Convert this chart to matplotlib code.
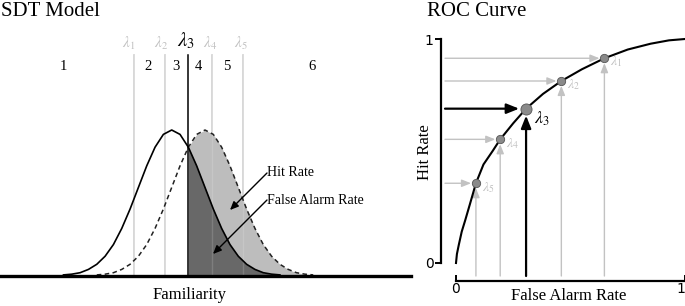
import matplotlib
matplotlib.use("Agg")
import matplotlib.pyplot as plt

# ---------------- data ----------------
# SDT model: familiarity axis (noise-sd units), densities
noise_x = [-3.25, -3.0, -2.75, -2.5, -2.25, -2.0, -1.75, -1.5, -1.25, -1.0, -0.75, -0.5, -0.25, 0.0,
           0.25, 0.5, 0.75, 1.0, 1.25, 1.5, 1.75, 2.0, 2.25, 2.5, 2.75, 3.0, 3.25]
noise_y = [0.003, 0.005, 0.009, 0.018, 0.032, 0.054, 0.086, 0.130, 0.183, 0.242, 0.301, 0.352, 0.387, 0.399,
           0.387, 0.352, 0.301, 0.242, 0.183, 0.130, 0.086, 0.054, 0.032, 0.018, 0.009, 0.005, 0.003]
signal_x = [-2.25, -2.0, -1.75, -1.5, -1.25, -1.0, -0.75, -0.5, -0.25, 0.0, 0.25, 0.5, 0.75, 1.0,
            1.25, 1.5, 1.75, 2.0, 2.25, 2.5, 2.75, 3.0, 3.25, 3.5, 3.75, 4.0, 4.25]
signal_y = [0.003, 0.005, 0.009, 0.018, 0.032, 0.054, 0.086, 0.130, 0.183, 0.242, 0.301, 0.352, 0.387, 0.399,
            0.387, 0.352, 0.301, 0.242, 0.183, 0.130, 0.086, 0.054, 0.032, 0.018, 0.009, 0.005, 0.003]
criteria = [-1.13, -0.20, 0.50, 1.21, 2.14]          # lambda1..lambda5
criterion_labels = [r'$\lambda_1$', r'$\lambda_2$', r'$\lambda_3$', r'$\lambda_4$', r'$\lambda_5$']
region_labels = ['1', '2', '3', '4', '5', '6']
active = 2  # lambda3

# ROC curve
roc_curve_fa = [0.0, 0.004, 0.012, 0.025, 0.04, 0.06, 0.087, 0.12, 0.16, 0.193, 0.25, 0.306, 0.38,
                0.46, 0.55, 0.648, 0.75, 0.85, 0.93, 1.0]
roc_curve_hit = [0.0, 0.04, 0.08, 0.14, 0.19, 0.26, 0.356, 0.44, 0.50, 0.552, 0.624, 0.689, 0.755,
                 0.8125, 0.865, 0.914, 0.953, 0.979, 0.994, 1.0]
roc_fa = [0.648, 0.46, 0.306, 0.193, 0.087]
roc_hit = [0.914, 0.8125, 0.689, 0.552, 0.356]

# ---------------- figure ----------------
W, H = 685, 306
fig = plt.figure(figsize=(W / 100, H / 100), dpi=100)
serif = ['Liberation Serif', 'DejaVu Serif']
plt.rcParams['mathtext.fontset'] = 'stix'

def fx(px):
    return px / W

def fy(py):
    return 1 - py / H

LGRAY = '#c2c2c2'

# ---------------- left: SDT model ----------------
axL = fig.add_axes([0, fy(276), fx(411), 276 / H])
x0 = (0 - 171.7) / 33.3
x1 = (411 - 171.7) / 33.3
axL.set_xlim(x0, x1)
axL.set_ylim(0, 276 / 146 * 0.399)
axL.axis('off')

c3 = criteria[active]
sx = [x for x in signal_x if x >= c3]
sy = [y for x, y in zip(signal_x, signal_y) if x >= c3]
nx = [x for x in noise_x if x >= c3]
ny = [y for x, y in zip(noise_x, noise_y) if x >= c3]
axL.fill_between(sx, sy, 0, color='#bdbdbd', lw=0, zorder=1)
axL.fill_between(nx, ny, 0, color='#686868', lw=0, zorder=2)

top = (276 - 55) / 146 * 0.399
for i, c in enumerate(criteria):
    if i == active:
        continue
    axL.plot([c, c], [0, top], color='#cfcfcf', lw=1.2, zorder=0.5)
    axL.plot([c, c], [0, top], color='#ffffff', lw=1.0, alpha=0.15, zorder=2.5)
axL.plot([c3, c3], [0, top], color='black', lw=1.1, zorder=4)

axL.plot(signal_x, signal_y, color='#222222', lw=1.1, ls=(0, (3, 2.2)), zorder=3)
axL.plot(noise_x, noise_y, color='black', lw=1.2, zorder=3)
axL.axhline(0, color='black', lw=2.4, zorder=5, clip_on=False)

# region numbers
region_px = [63, 148, 176, 198, 227, 312]
for lab, px in zip(region_labels, region_px):
    fig.text(fx(px), fy(66), lab, ha='center', va='center', fontsize=10.5, family=serif)
lam_px = [129, 161, 186, 210, 241]
for i, (lab, px) in enumerate(zip(criterion_labels, lam_px)):
    if i == active:
        fig.text(fx(px), fy(41), lab, ha='center', va='center', fontsize=15, color='black')
    else:
        fig.text(fx(px), fy(43), lab, ha='center', va='center', fontsize=11, color=LGRAY)

fig.text(fx(1), fy(11), 'SDT Model', ha='left', va='center', fontsize=15, family=serif)
fig.text(fx(190), fy(295), 'Familiarity', ha='center', va='center', fontsize=12, family=serif)

fig.text(fx(267), fy(173), 'Hit Rate', ha='left', va='center', fontsize=10, family=serif)
fig.text(fx(267), fy(200), 'False Alarm Rate', ha='left', va='center', fontsize=10, family=serif)
fig.add_artist(matplotlib.patches.FancyArrowPatch(
    (fx(267), fy(173)), (fx(230), fy(210)), transform=fig.transFigure,
    arrowstyle='-|>,head_length=5,head_width=2.2', color='black', lw=1.0, shrinkA=0, shrinkB=0, zorder=10))
fig.add_artist(matplotlib.patches.FancyArrowPatch(
    (fx(267), fy(200)), (fx(213), fy(254)), transform=fig.transFigure,
    arrowstyle='-|>,head_length=5,head_width=2.2', color='black', lw=1.0, shrinkA=0, shrinkB=0, zorder=10))

# ---------------- right: ROC curve ----------------
axR = fig.add_axes([fx(456), fy(263), 229 / W, 224 / H])
axR.set_xlim(0, 1)
axR.set_ylim(0, 1)
axR.patch.set_alpha(0)
for s in ['top', 'right']:
    axR.spines[s].set_visible(False)
axR.spines['left'].set_position(('outward', 11))
axR.spines['bottom'].set_position(('outward', 13))
axR.spines['left'].set_linewidth(1.6)
axR.spines['bottom'].set_linewidth(1.6)
axR.set_xticks([0, 1])
axR.set_yticks([0, 1])
axR.set_xticklabels(['0', '1'], family=['DejaVu Sans'], fontsize=10)
axR.set_yticklabels(['0', '1'], family=['DejaVu Sans'], fontsize=10)
axR.get_xticklabels()[-1].set_horizontalalignment('right')
axR.tick_params(axis='y', direction='out', length=4, width=1.4, pad=1)
axR.tick_params(axis='x', direction='in', length=4, width=1.4, pad=1)

xa = -11 / 229
ya = -13 / 224
for i, (fa, hr) in enumerate(zip(roc_fa, roc_hit)):
    if i == active:
        continue
    kw = dict(arrowstyle='-|>,head_length=0.55,head_width=0.22', color=LGRAY, lw=1.0,
              shrinkA=0, shrinkB=3.5)
    axR.annotate('', xy=(fa, hr), xytext=(xa, hr), arrowprops=kw, annotation_clip=False, zorder=2)
    axR.annotate('', xy=(fa, hr), xytext=(fa, ya), arrowprops=kw, annotation_clip=False, zorder=2)

fa3, hr3 = roc_fa[active], roc_hit[active]
kwb = dict(arrowstyle='-|>,head_length=0.75,head_width=0.3', color='black', lw=1.6,
           shrinkA=0, shrinkB=5)
axR.annotate('', xy=(fa3, hr3), xytext=(xa, hr3), arrowprops=kwb, annotation_clip=False, zorder=4)
axR.annotate('', xy=(fa3, hr3), xytext=(fa3, ya), arrowprops=kwb, annotation_clip=False, zorder=4)

axR.plot(roc_curve_fa, roc_curve_hit, color='black', lw=1.5, zorder=3, clip_on=False)
for i, (fa, hr) in enumerate(zip(roc_fa, roc_hit)):
    ms = 8 if i == active else 6
    axR.plot([fa], [hr], 'o', ms=ms, mfc='#8a8a8a', mec='#555555', mew=0.6, zorder=5, clip_on=False)

roc_lab_off = [(6, -3), (6, -4), (8, -10), (6, -4), (6, -4)]
for i, (fa, hr) in enumerate(zip(roc_fa, roc_hit)):
    lab = criterion_labels[i]
    dx, dy = roc_lab_off[i]
    if i == active:
        axR.annotate(lab, xy=(fa, hr), xytext=(dx, dy), textcoords='offset pixels',
                     ha='left', va='center', fontsize=13, color='black')
    else:
        axR.annotate(lab, xy=(fa, hr), xytext=(dx, dy), textcoords='offset pixels',
                     ha='left', va='center', fontsize=10, color=LGRAY)

fig.text(fx(427), fy(11), 'ROC Curve', ha='left', va='center', fontsize=15, family=serif)
fig.text(fx(569), fy(296), 'False Alarm Rate', ha='center', va='center', fontsize=12, family=serif)
fig.text(fx(425), fy(152), 'Hit Rate', ha='center', va='center', fontsize=12, family=serif, rotation=90)

fig.savefig('out.png', dpi=100)
